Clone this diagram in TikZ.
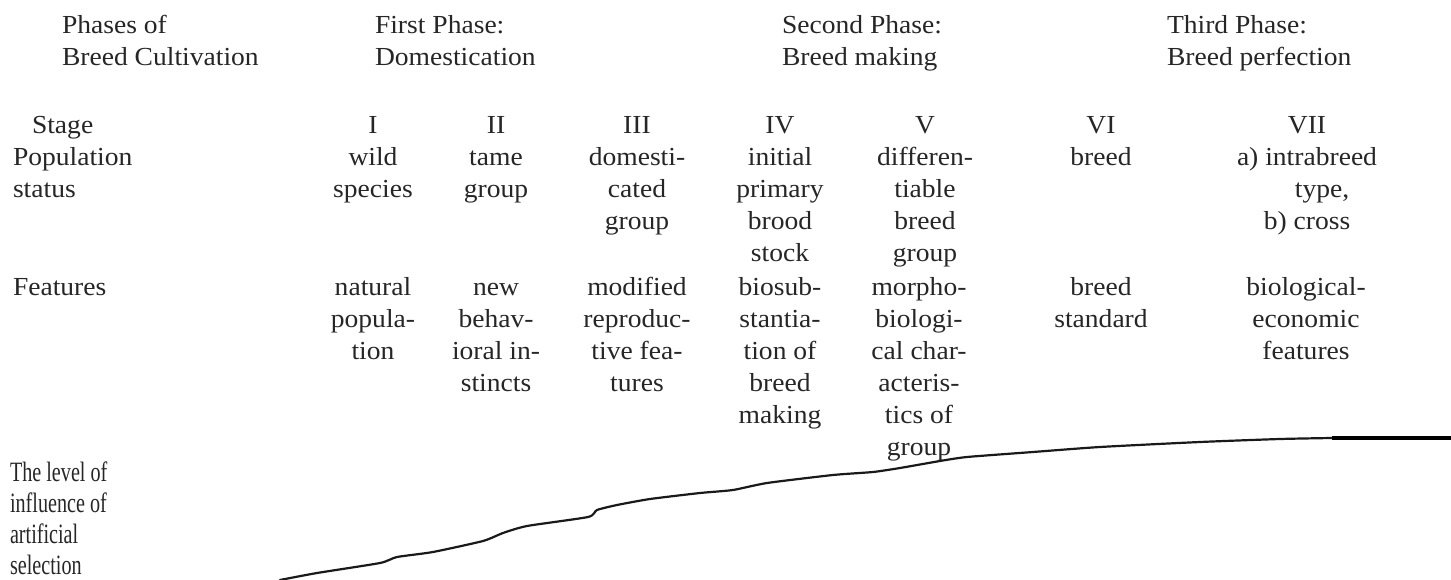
\documentclass[tikz,border=0pt]{standalone}
\usepackage{fontspec}
\setmainfont{Liberation Serif}[FakeStretch=1.06]
\newfontfamily\condfont{Liberation Serif}[FakeStretch=0.72]
\newcommand{\cellc}[1]{\begin{tabular}[t]{@{}c@{}}#1\end{tabular}}
\newcommand{\celll}[1]{\begin{tabular}[t]{@{}l@{}}#1\end{tabular}}
\begin{document}
\begin{tikzpicture}[x=1pt,y=-1pt,
  every node/.style={inner sep=0pt, outer sep=0pt, text=black!85},
  txt/.style={font=\fontsize{26}{32}\selectfont, anchor=base},
  lft/.style={font=\fontsize{26}{32}\selectfont, anchor=base west},
  condlbl/.style={font=\condfont\fontsize{28}{31}\selectfont, anchor=base west},
  curve/.style={line width=2.2pt, black!90, line join=round, line cap=round},
  flat/.style={line width=3.2pt, black}
]
\useasboundingbox (0,0) rectangle (1451,580);
% header row
\node[lft] (phlbl) at (62,34) {\celll{Phases of\\Breed Cultivation}};
\node[lft] (ph1) at (375,34) {\celll{First Phase:\\Domestication}};
\node[lft] (ph2) at (782,34) {\celll{Second Phase:\\Breed making}};
\node[lft] (ph3) at (1167,34) {\celll{Third Phase:\\Breed perfection}};
% row labels
\node[lft] (stg) at (32,134) {Stage};
\node[lft] (pop) at (13,166) {\celll{Population\\status}};
\node[lft] (feat) at (13,295) {Features};
\node[condlbl] (lev) at (10,481) {\celll{The level of\\influence of\\artificial\\selection}};
% stages and population status
\node[txt] (s1) at (373,134) {\cellc{I\\wild\\species}};
\node[txt] (s2) at (496,134) {\cellc{II\\tame\\group}};
\node[txt] (s3) at (637,134) {\cellc{III\\domesti-\\cated\\group}};
\node[txt] (s4) at (780,134) {\cellc{IV\\initial\\primary\\brood\\stock}};
\node[txt] (s5) at (925,134) {\cellc{V\\differen-\\tiable\\breed\\group}};
\node[txt] (s6) at (1101,134) {\cellc{VI\\breed}};
\node[txt] (s7) at (1307,134) {\cellc{VII\\a) intrabreed\\\hspace*{30pt}type,\\b) cross}};
% features
\node[txt] (f1) at (373,295) {\cellc{natural\\popula-\\tion}};
\node[txt] (f2) at (496,295) {\cellc{new\\behav-\\ioral in-\\stincts}};
\node[txt] (f3) at (637,295) {\cellc{modified\\reproduc-\\tive fea-\\tures}};
\node[txt] (f4) at (780,295) {\cellc{biosub-\\stantia-\\tion of\\breed\\making}};
\node[txt] (f5) at (919,295) {\cellc{morpho-\\biologi-\\cal char-\\acteris-\\tics of\\group}};
\node[txt] (f6) at (1101,295) {\cellc{breed\\standard}};
\node[txt] (f7) at (1306,295) {\cellc{biological-\\economic\\features}};
% level curve
\coordinate (cstart) at (280,580);
\coordinate (cflat) at (1332,438);
\coordinate (cend) at (1451,438);
\draw[curve] plot[smooth, tension=0.35] coordinates {
  (cstart) (317,573) (380,563) (397,557) (433,552) (483,541) (503,533)
  (527,526) (588,517) (597,510) (617,505) (650,499) (700,493) (733,490)
  (767,483) (833,475) (873,472) (900,468) (940,461) (967,457) (1033,452)
  (1100,447) (1200,442) (1280,439) (cflat)};
\draw[flat] (cflat) -- (cend);
\end{tikzpicture}
\end{document}
